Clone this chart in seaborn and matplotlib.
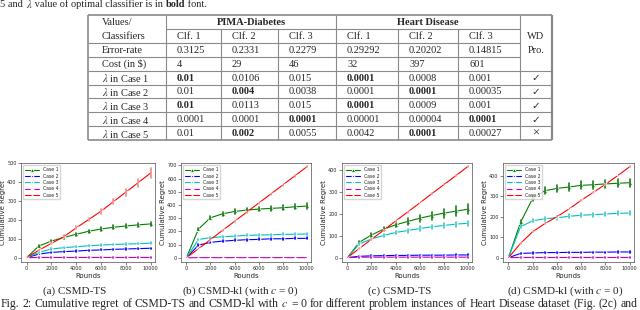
import numpy as np
import pandas as pd
import matplotlib
matplotlib.use("Agg")
import matplotlib.pyplot as plt
import seaborn as sns

sns.set_style("ticks")
plt.rcParams['mathtext.fontset'] = 'stix'

# ---------------- data ----------------
rounds = [0, 1000, 2000, 3000, 4000, 5000, 6000, 7000, 8000, 9000, 10000]
cases = ['Case 1', 'Case 2', 'Case 3', 'Case 4', 'Case 5']

# (a) CSMD-TS, PIMA
a_case1 = [0, 62, 88, 107, 124, 140, 152, 161, 168, 174, 179]
a_case2 = [0, 19, 28, 32, 35, 39, 41, 44, 46, 48, 50]
a_case3 = [0, 28, 46, 53, 58, 63, 67, 70, 72, 74, 77]
a_case4 = [0, 1, 1, 1, 1, 1, 1, 1, 1, 1, 1]
a_case5 = [0, 40, 76, 111, 158, 202, 246, 297, 347, 398, 449]
a_err1 = [0, 4, 6, 7, 8, 9, 9, 10, 10, 11, 11]
a_err2 = [0, 2, 2, 2, 3, 3, 3, 3, 3, 3, 3]
a_err3 = [0, 2, 3, 3, 3, 3, 3, 3, 4, 4, 4]
a_err4 = [0, 1, 1, 1, 1, 1, 1, 1, 1, 1, 1]
a_err5 = [0, 3, 5, 7, 8, 10, 13, 15, 18, 21, 24]

# (b) CSMD-kl, PIMA
b_case1 = [0, 217, 303, 333, 351, 361, 369, 374, 379, 386, 392]
b_case2 = [0, 96, 117, 126, 132, 137, 139, 144, 144, 147, 147]
b_case3 = [0, 139, 152, 159, 164, 170, 172, 174, 177, 179, 180]
b_case4 = [0, 1, 1, 1, 1, 1, 1, 1, 1, 1, 1]
b_case5 = [0, 68, 138, 207, 276, 345, 414, 482, 551, 620, 689]
b_err1 = [0, 8, 12, 14, 16, 17, 18, 18, 19, 19, 20]
b_err2 = [0, 6, 7, 7, 7, 7, 8, 8, 8, 8, 8]
b_err3 = [0, 5, 6, 6, 6, 7, 7, 7, 7, 7, 7]
b_err4 = [0, 1, 1, 1, 1, 1, 1, 1, 1, 1, 1]
b_err5 = [0, 2, 2, 3, 3, 3, 4, 4, 4, 5, 5]

# (c) CSMD-TS, Heart Disease
c_case1 = [0, 70, 103, 129, 149, 164, 179, 191, 202, 211, 220]
c_case2 = [0, 6, 8, 9, 10, 10, 11, 11, 11, 12, 12]
c_case3 = [0, 62, 85, 100, 114, 123, 132, 140, 146, 152, 156]
c_case4 = [0, 2, 2, 2, 2, 2, 2, 2, 2, 2, 2]
c_case5 = [0, 42, 83, 124, 166, 207, 248, 290, 331, 372, 414]
c_err1 = [0, 6, 8, 10, 12, 14, 16, 18, 20, 22, 24]
c_err2 = [0, 3, 3, 3, 3, 3, 3, 3, 3, 3, 3]
c_err3 = [0, 5, 6, 7, 8, 9, 10, 10, 11, 12, 12]
c_err4 = [0, 2, 2, 2, 2, 2, 2, 2, 2, 2, 2]
c_err5 = [0, 1, 1, 2, 2, 2, 2, 3, 3, 3, 3]

# (d) CSMD-kl, Heart Disease
d_case1 = [0, 173, 290, 327, 338, 345, 353, 356, 360, 363, 366]
d_case2 = [0, 21, 23, 25, 25, 26, 26, 27, 27, 28, 28]
d_case3 = [0, 151, 180, 190, 195, 202, 207, 210, 213, 216, 218]
d_case4 = [0, 1, 1, 1, 1, 1, 1, 1, 1, 1, 1]
d_case5 = [0, 70, 127, 166, 200, 238, 280, 319, 358, 400, 444]
d_err1 = [0, 10, 14, 16, 18, 18, 19, 19, 20, 20, 20]
d_err2 = [0, 3, 3, 3, 3, 3, 3, 3, 3, 3, 3]
d_err3 = [0, 8, 8, 9, 9, 9, 9, 10, 10, 10, 10]
d_err4 = [0, 1, 1, 1, 1, 1, 1, 1, 1, 1, 1]
d_err5 = [0, 1, 1, 1, 1, 1, 1, 1, 1, 1, 1]

# table
col_heads = ['Clf. 1', 'Clf. 2', 'Clf. 3', 'Clf. 1', 'Clf. 2', 'Clf. 3']
row_names = ['Error-rate', 'Cost (in \\$)', r'$\lambda$ in Case 1', r'$\lambda$ in Case 2',
             r'$\lambda$ in Case 3', r'$\lambda$ in Case 4', r'$\lambda$ in Case 5']
error_rate = ['0.3125', '0.2331', '0.2279', '0.29292', '0.20202', '0.14815']
cost = ['4', '29', '46', '32', '397', '601']
lam_case1 = ['0.01', '0.0106', '0.015', '0.0001', '0.0008', '0.001']
lam_case2 = ['0.01', '0.004', '0.0038', '0.0001', '0.0001', '0.00035']
lam_case3 = ['0.01', '0.0113', '0.015', '0.0001', '0.0009', '0.001']
lam_case4 = ['0.0001', '0.0001', '0.0001', '0.00001', '0.00004', '0.0001']
lam_case5 = ['0.01', '0.002', '0.0055', '0.0042', '0.0001', '0.00027']
bold_idx = [[0, 3], [1, 4], [0, 3], [2, 5], [1, 4]]
wd_pro = ['✓', '✓', '✓', '✓', '×']

captions = ['(a) CSMD-TS', '(b) CSMD-kl (with $c$ = 0)', '(c) CSMD-TS', '(d) CSMD-kl (with $c$ = 0)']
fig_caption = ('Fig. 2: Cumulative regret of CSMD-TS and CSMD-kl with $c$ = 0 for different problem '
               'instances of Heart Disease dataset (Fig. (2c) and')

# ---------------- figure ----------------
W, H = 640, 310
fig = plt.figure(figsize=(6.4, 3.1), dpi=100)
bg = fig.add_axes([0, 0, 1, 1], zorder=0)
bg.set_xlim(0, W)
bg.set_ylim(H, 0)
bg.axis('off')

serif = 'Liberation Serif'
fs = 7.5

fig.canvas.draw()
rend = fig.canvas.get_renderer()

# top line (last line of the table caption)
x = 0
for piece, w in [('5 and ', 'normal'), (r'$\lambda$', 'normal'), (' value of optimal classifier is in ', 'normal'),
                 ('bold', 'bold'), (' font.', 'normal')]:
    t = bg.text(x, 4.5, piece, fontsize=fs, family=serif, weight=w, va='center', ha='left')
    x = t.get_window_extent(renderer=rend).x1

# table grid
xs = [88, 166, 221, 278, 336, 398, 458, 520, 552]
top, rh = 15, 13.9
ys = [top + i * rh for i in range(10)]
lc, lw = '#8a8a8a', 0.8
def hl(y, x0, x1, w=lw):
    bg.plot([x0, x1], [y, y], color=lc, lw=w, solid_capstyle='butt')
def vl(x, y0, y1, w=lw):
    bg.plot([x, x], [y0, y1], color=lc, lw=w, solid_capstyle='butt')

hl(ys[0], xs[0], xs[8], 1.2)
hl(ys[1], xs[1], xs[7])
hl(ys[2], xs[0], xs[7])
hl(ys[3], xs[0], xs[7])
for i in range(4, 9):
    hl(ys[i], xs[0], xs[8])
hl(ys[9], xs[0], xs[8], 1.2)
vl(xs[0], ys[0], ys[9], 1.2)
vl(xs[8], ys[0], ys[9], 1.6)
for j in [1, 4, 7]:
    vl(xs[j], ys[0], ys[9])
for j in [2, 3, 5, 6]:
    vl(xs[j], ys[1], ys[9])

def cell_y(i):
    return ys[i] + rh / 2 + 0.5

bg.text(xs[0] + 14, cell_y(0), 'Values/', fontsize=fs, family=serif, va='center')
bg.text(xs[0] + 14, cell_y(1), 'Classifiers', fontsize=fs, family=serif, va='center')
bg.text((xs[1] + xs[4]) / 2, cell_y(0), 'PIMA-Diabetes', fontsize=fs, family=serif,
        weight='bold', va='center', ha='center')
bg.text((xs[4] + xs[7]) / 2, cell_y(0), 'Heart Disease', fontsize=fs, family=serif,
        weight='bold', va='center', ha='center')
bg.text((xs[7] + xs[8]) / 2, cell_y(1), 'WD', fontsize=fs, family=serif, va='center', ha='center')
bg.text((xs[7] + xs[8]) / 2, cell_y(2), 'Pro.', fontsize=fs, family=serif, va='center', ha='center')
for j, h in enumerate(col_heads):
    bg.text(xs[j + 1] + 11, cell_y(1), h, fontsize=fs, family=serif, va='center')

table_rows = [error_rate, cost, lam_case1, lam_case2, lam_case3, lam_case4, lam_case5]
for r, (name, vals) in enumerate(zip(row_names, table_rows)):
    i = r + 2
    bg.text(xs[0] + 14, cell_y(i), name, fontsize=fs, family=serif, va='center')
    for j, v in enumerate(vals):
        w = 'bold' if r >= 2 and j in bold_idx[r - 2] else 'normal'
        bg.text(xs[j + 1] + 11, cell_y(i), v, fontsize=fs, family=serif, weight=w, va='center')
    if r >= 2:
        mark = wd_pro[r - 2]
        bg.text((xs[7] + xs[8]) / 2, cell_y(i), mark, fontsize=fs if mark == '✓' else 9,
                family=['DejaVu Sans'] if mark == '✓' else serif, va='center', ha='center')

# ---------------- regret plots ----------------
styles = [('g', '^', '#1f7a1f'), ('b', '*', 'b'), ('c', '*', '#40c8c8'),
          ('m', '+', 'm'), ('r', 'x', '#f28a8a')]
panels = [
    ((21, 163, 155, 262), [a_case1, a_case2, a_case3, a_case4, a_case5],
     [a_err1, a_err2, a_err3, a_err4, a_err5], (-23, 502), 500),
    ((181, 163, 311, 262), [b_case1, b_case2, b_case3, b_case4, b_case5],
     [b_err1, b_err2, b_err3, b_err4, b_err5], (-32, 718), 700),
    ((342, 163, 472, 262), [c_case1, c_case2, c_case3, c_case4, c_case5],
     [c_err1, c_err2, c_err3, c_err4, c_err5], (-20, 430), 400),
    ((503, 163, 634, 262), [d_case1, d_case2, d_case3, d_case4, d_case5],
     [d_err1, d_err2, d_err3, d_err4, d_err5], (-21, 462), 400),
]
cap_x = [75, 240, 400, 565]

for k, (box, means, errs, ylim, ytop) in enumerate(panels):
    x0, y0, x1, y1 = box
    ax = fig.add_axes([x0 / W, 1 - y1 / H, (x1 - x0) / W, (y1 - y0) / H], zorder=2)
    for case, m, e, (col, mk, ecol) in zip(cases, means, errs, styles):
        m = np.array(m, dtype=float)
        e = np.array(e, dtype=float)
        df = pd.DataFrame({
            'Rounds': rounds * 3,
            'Regret': np.concatenate([m - e, m, m + e]),
        })
        sns.lineplot(data=df, x='Rounds', y='Regret', estimator='mean', errorbar=('pi', 100),
                     err_style='bars', color=col, marker=mk, linestyle='-', lw=0.8,
                     markersize=3 if mk != '+' else 3.5, markeredgewidth=0.6 if mk != '+' else 0.9,
                     label=case, ax=ax,
                     err_kws={'ecolor': ecol, 'elinewidth': 1.2, 'capsize': 0})
    ax.set_xlim(-450, 10350)
    ax.set_ylim(*ylim)
    ax.set_xticks(range(0, 10001, 2000))
    ax.set_yticks(range(0, ytop + 1, 100))
    ax.tick_params(labelsize=3.5, length=2, width=0.4, pad=1.2)
    for s in ax.spines.values():
        s.set_linewidth(0.5)
        s.set_color('0.3')
    ax.set_xlabel('Rounds', fontsize=5, labelpad=1)
    ax.set_ylabel('Cumulative Regret', fontsize=5, labelpad=1)
    ax.legend(loc='upper left', fontsize=3.3, handlelength=3, borderpad=0.4,
              labelspacing=0.3, frameon=True, edgecolor='0.8', fancybox=False)
    bg.text(cap_x[k], 291, captions[k], fontsize=8, family=serif, va='center', ha='center')

# justified figure caption line (stretched across the full width)
words = fig_caption.split(' ')
items = [bg.text(0, 304, wd, fontsize=8.5, family=serif, va='center', ha='left') for wd in words]
widths = [t.get_window_extent(renderer=rend).width for t in items]
gap = (637 - 1 - sum(widths)) / (len(words) - 1)
x = 1
for t, wdt in zip(items, widths):
    t.set_x(x)
    x += wdt + gap

fig.savefig('out.png', dpi=100)
